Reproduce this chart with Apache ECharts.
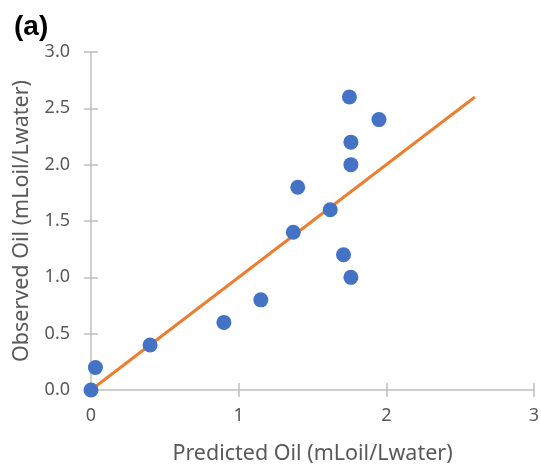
<!DOCTYPE html>
<html><head><meta charset="utf-8">
<script src="https://cdn.jsdelivr.net/npm/echarts@6/dist/echarts.min.js"></script>
<style>html,body{margin:0;padding:0;background:#fff}#c{width:541px;height:466px}</style>
</head><body><div id="c"></div>
<script>
const predicted = [0, 0.03, 0.40, 0.90, 1.15, 1.37, 1.40, 1.62, 1.71, 1.76, 1.75, 1.76, 1.76, 1.95];
const observed  = [0, 0.2, 0.4, 0.6, 0.8, 1.4, 1.8, 1.6, 1.2, 1.0, 2.6, 2.2, 2.0, 2.4];
const fitX = [0, 2.6];
const fitY = [0, 2.6];
const xTicks = [0, 1, 2, 3];
const yTicks = [0, 0.5, 1.0, 1.5, 2.0, 2.5, 3.0];

const font = 'Noto Sans';
const gridPos = {left: 91, right: 7, top: 52, bottom: 76, outerBoundsMode: 'none', containLabel: false};
const chart = echarts.init(document.getElementById('c'), null, {renderer: 'canvas'});
const axisCol = '#bfbfbf';
chart.setOption({
  animation: false,
  title: {text: '(a)', left: 9, top: 8, textStyle: {fontFamily: 'Liberation Sans', fontWeight: 'bold', fontSize: 28, color: '#000'}},
  grid: [Object.assign({}, gridPos), Object.assign({}, gridPos)],
  xAxis: [{
    type: 'value', gridIndex: 0, min: xTicks[0], max: xTicks[xTicks.length-1], interval: 1,
    name: 'Predicted Oil (mLoil/Lwater)', nameLocation: 'middle', nameGap: 53,
    nameTextStyle: {fontFamily: font, fontSize: 21.5, color: '#595959'},
    axisLine: {lineStyle: {color: axisCol, width: 1.5}},
    axisTick: {show: true, length: 7, lineStyle: {color: axisCol, width: 1.5}},
    axisLabel: {fontFamily: font, fontSize: 18, color: '#595959', margin: 17},
    splitLine: {show: false}
  }, {
    type: 'value', gridIndex: 1, min: 0, max: 3, interval: 1,
    axisLine: {show: false},
    axisTick: {show: true, inside: true, length: 7, lineStyle: {color: axisCol, width: 1.5}},
    axisLabel: {show: false}, splitLine: {show: false}
  }],
  yAxis: [{
    type: 'value', gridIndex: 0, min: yTicks[0], max: yTicks[yTicks.length-1], interval: 0.5,
    name: 'Observed Oil (mLoil/Lwater)', nameLocation: 'middle', nameGap: 58,
    nameTextStyle: {fontFamily: font, fontSize: 21.5, color: '#595959'},
    axisLine: {show: true, lineStyle: {color: axisCol, width: 1.5}},
    axisTick: {show: true, length: 7, lineStyle: {color: axisCol, width: 1.5}},
    axisLabel: {fontFamily: font, fontSize: 18, color: '#595959', margin: 21, formatter: v => v.toFixed(1)},
    splitLine: {show: false}
  }, {
    type: 'value', gridIndex: 1, min: 0, max: 3, interval: 0.5,
    axisLine: {show: false},
    axisTick: {show: true, inside: true, length: 7, lineStyle: {color: axisCol, width: 1.5}},
    axisLabel: {show: false}, splitLine: {show: false}
  }],
  series: [{
    type: 'line', xAxisIndex: 0, yAxisIndex: 0,
    data: fitX.map((x, i) => [x, fitY[i]]),
    showSymbol: false, lineStyle: {color: '#ED7D31', width: 3}, z: 2
  }, {
    type: 'scatter', xAxisIndex: 0, yAxisIndex: 0,
    data: predicted.map((x, i) => [x, observed[i]]),
    symbolSize: 15, itemStyle: {color: '#4472C4', opacity: 1}, z: 3
  }]
});
</script></body></html>
